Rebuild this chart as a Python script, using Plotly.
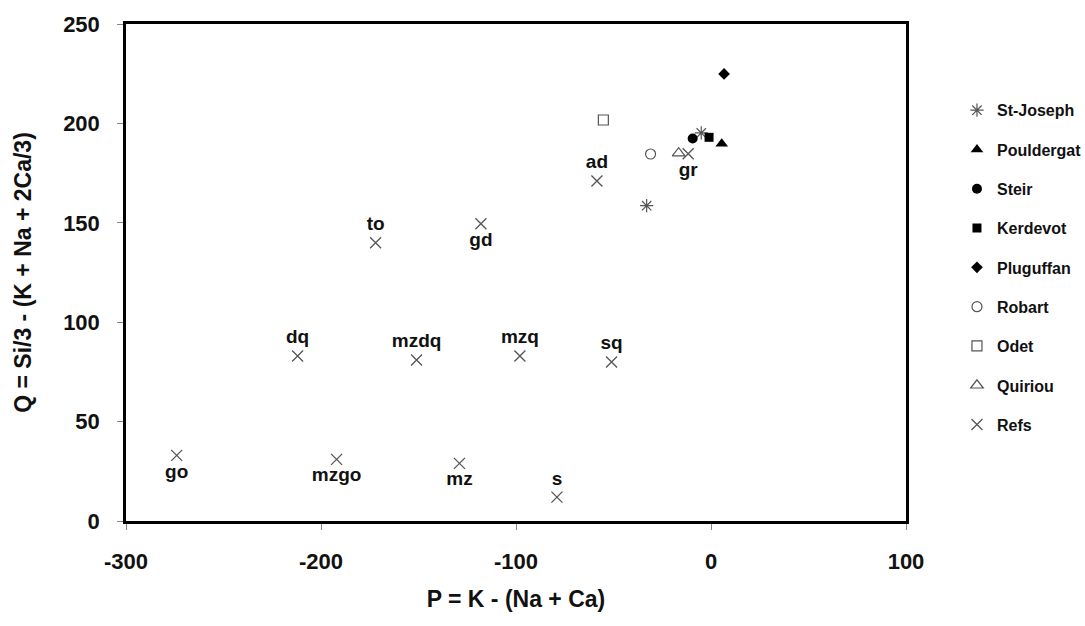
import plotly.graph_objects as go

# Reference compositions (P, Q) with labels
ref_labels = ["go", "mzgo", "mz", "s", "dq", "mzdq", "mzq", "sq", "to", "gd", "ad", "gr"]
ref_p = [-274, -192, -129, -79, -212, -151, -98, -51, -172, -118, -58.5, -11.7]
ref_q = [33, 31, 29, 12, 83, 81, 83, 80, 140, 149.5, 171, 184.7]
ref_pos = ["bottom center", "bottom center", "bottom center", "top center",
           "top center", "top center", "top center", "top center",
           "top center", "bottom center", "top center", "bottom center"]

# Samples
stjoseph_p = [-33, -5]
stjoseph_q = [158.6, 195.2]
pouldergat_p = [5.5]
pouldergat_q = [189.8]
steir_p = [-9.4]
steir_q = [192.4]
kerdevot_p = [-1]
kerdevot_q = [193]
pluguffan_p = [6.7]
pluguffan_q = [224.9]
robart_p = [-31]
robart_q = [184.6]
odet_p = [-55.2]
odet_q = [201.7]
quiriou_p = [-16.6]
quiriou_q = [185]

x_ticks = [-300, -200, -100, 0, 100]
x_ticktext = ["-300", "-200", "-100", "0", "100"]
y_ticks = [0, 50, 100, 150, 200, 250]
y_ticktext = ["0", "50", "100", "150", "200", "250"]

FONT = "Liberation Sans, Arial"
GRAY = "#555555"
fig = go.Figure()

def add(name, xs, ys, symbol, size, color, lw=1.2):
    fig.add_trace(go.Scatter(
        x=xs, y=ys, mode="markers", name=name, legendgroup=name,
        marker=dict(symbol=symbol, size=size, color=color,
                    line=dict(color=color, width=lw)),
    ))

add("St-Joseph", stjoseph_p, stjoseph_q, "asterisk-open", 11, GRAY, 1.2)
add("Pouldergat", pouldergat_p, pouldergat_q, "triangle-up", 11, "black", 0)
add("Steir", steir_p, steir_q, "circle", 10, "black", 0)
add("Kerdevot", kerdevot_p, kerdevot_q, "square", 9, "black", 0)
add("Pluguffan", pluguffan_p, pluguffan_q, "diamond", 9, "black", 0)
add("Robart", robart_p, robart_q, "circle-open", 10, GRAY, 1.2)
add("Odet", odet_p, odet_q, "square-open", 10, GRAY, 1.2)
add("Quiriou", quiriou_p, quiriou_q, "triangle-up-open", 11, GRAY, 1.2)

fig.add_trace(go.Scatter(
    x=ref_p, y=ref_q, mode="markers+text", name="Refs", legendgroup="Refs",
    text=ref_labels, textposition=ref_pos,
    textfont=dict(family=FONT, size=19, color="#111111", weight="bold"),
    marker=dict(symbol="x-thin-open", size=11, color=GRAY, line=dict(color=GRAY, width=1.3)),
))

axis_common = dict(
    showline=True, linecolor="black", linewidth=2.5, mirror=True,
    showgrid=False, zeroline=False,
    ticks="outside", ticklen=6, tickcolor="#888888", tickwidth=1,
    tickfont=dict(family=FONT, size=22, color="#111111", weight="bold"),
)

fig.update_layout(
    width=1085, height=626,
    margin=dict(l=126, r=179, t=16, b=105),
    plot_bgcolor="white", paper_bgcolor="white",
    xaxis=dict(range=[-300, 100], tickvals=x_ticks, ticktext=x_ticktext, ticklabelstandoff=13,
               title=dict(text="P = K - (Na + Ca)", standoff=18,
                          font=dict(family=FONT, size=23, color="#111111", weight="bold")),
               **axis_common),
    yaxis=dict(range=[0, 250], tickvals=y_ticks, ticktext=y_ticktext, ticklabelstandoff=13,
               title=dict(text="Q = Si/3 - (K + Na + 2Ca/3)", standoff=26,
                          font=dict(family=FONT, size=23, color="#111111", weight="bold")),
               **axis_common),
    legend=dict(xref="container", yref="container", x=0.882, y=0.851,
                xanchor="left", yanchor="top", maxheight=500,
                font=dict(family=FONT, size=16, color="#111111", weight="bold"),
                tracegroupgap=15.5, itemwidth=30, bgcolor="rgba(0,0,0,0)"),
    showlegend=True,
)

fig.write_html("out.html")
